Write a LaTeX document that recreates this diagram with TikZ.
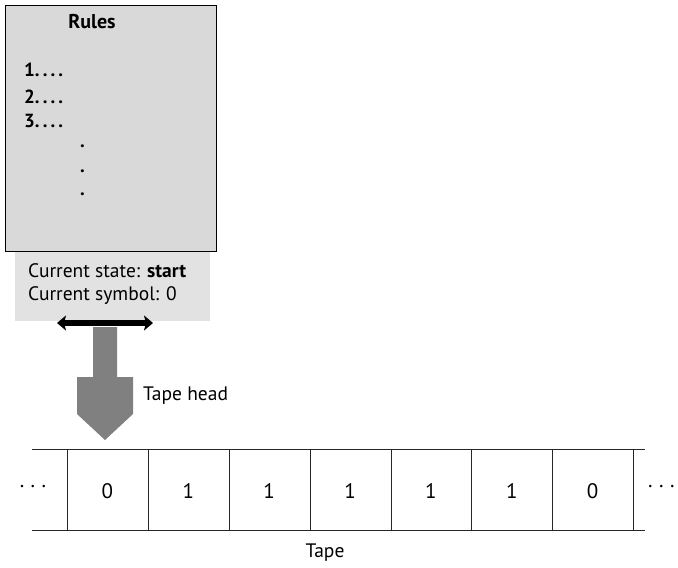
\documentclass[tikz,border=0pt]{standalone}
\usepackage{fontspec}
\setmainfont{PT Sans}
\usetikzlibrary{arrows.meta}
\definecolor{rulegray}{HTML}{D9D9D9}
\definecolor{stategray}{HTML}{E2E2E2}
\definecolor{headgray}{HTML}{808080}
\tikzset{
  lbl/.style={inner sep=0pt, font=\fontsize{19.5}{22}\selectfont},
  rulelbl/.style={inner sep=0pt, font=\bfseries\fontsize{19}{22}\selectfont, anchor=west},
  celltext/.style={inner sep=0pt, font=\fontsize{21}{24}\selectfont},
  tapeline/.style={line width=0.8pt, draw=black!85},
}
\newcommand{\wdots}{.\hspace{6.5pt}.\hspace{6.5pt}.}
\begin{document}
\begin{tikzpicture}[x=1pt,y=-1pt]
\useasboundingbox (0,0) rectangle (678,568);
% state box
\fill[stategray] (15,251) rectangle (210,321);
% rules box
\draw[fill=rulegray, line width=1pt] (5,5) rectangle (216,251);
\node[inner sep=0pt, font=\bfseries\fontsize{20}{22}\selectfont] (rules) at (92,22) {Rules};
\node[rulelbl] (r1) at (24,70) {1.\,.\,.\,.};
\node[rulelbl] (r2) at (24,97) {2.\,.\,.\,.};
\node[rulelbl] (r3) at (24,121) {3.\,.\,.\,.};
\node[rulelbl] (d1) at (80,146) {.};
\node[rulelbl] (d2) at (80,171) {.};
\node[rulelbl] (d3) at (80,194) {.};
\node[lbl, anchor=west] (st) at (28,271) {Current state: \textbf{start}};
\node[lbl, anchor=west] (sy) at (28,296) {Current symbol: 0};
% double arrow
\coordinate (al) at (57,323);
\coordinate (ar) at (153,323);
\draw[line width=5.5pt, {Stealth[width=15pt,length=9pt,inset=2pt]}-{Stealth[width=15pt,length=9pt,inset=2pt]}] (al) -- (ar);
% tape head arrow
\fill[headgray] (93,327) -- (117,327) -- (117,377) -- (133,377) -- (133,414) -- (105,440) -- (77,414) -- (77,377) -- (93,377) -- cycle;
\node[lbl, anchor=west] (th) at (143,396) {Tape head};
% tape
\draw[tapeline] (32,449) -- (645,449);
\draw[tapeline] (32,530) -- (645,530);
\foreach \x in {67,148,229,310,391,471,552,633}{
  \draw[tapeline] (\x,449) -- (\x,530);
}
\foreach \d [count=\i] in {0,1,1,1,1,1,0}{
  \pgfmathsetmacro{\cx}{67+80.86*(\i-0.5)}
  \node[celltext] (c\i) at (\cx,491) {\d};
}
\node[celltext] (ldots) at (33,487) {\wdots};
\node[celltext, anchor=west] (rdots) at (648,487) {\wdots};
\node[lbl] (tape) at (325,553) {Tape};
\end{tikzpicture}
\end{document}
